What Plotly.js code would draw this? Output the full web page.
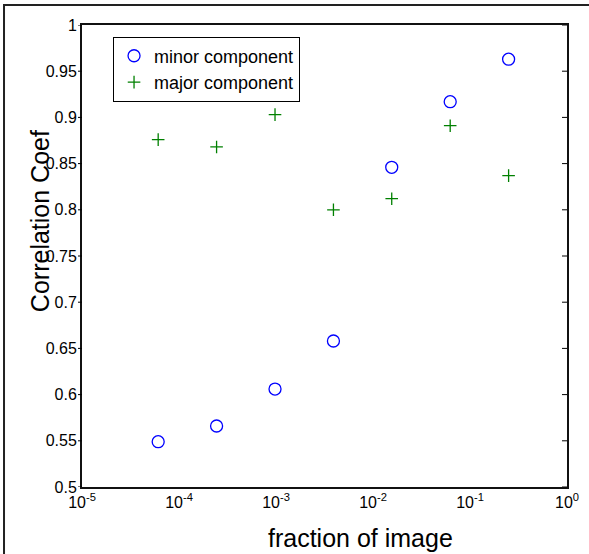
<!DOCTYPE html>
<html>
<head>
<meta charset="utf-8">
<script src="https://cdn.plot.ly/plotly-3.0.1.min.js"></script>
<style>html,body{margin:0;padding:0;background:#fff;overflow:hidden}#chart{width:589px;height:554px}</style>
</head>
<body>
<div id="chart"></div>
<script>
// Data
const fraction = [6.1e-5, 2.44e-4, 9.77e-4, 3.91e-3, 1.56e-2, 6.25e-2, 0.25];
const minorComponent = [0.549, 0.566, 0.606, 0.658, 0.846, 0.917, 0.963];
const majorComponent = [0.876, 0.868, 0.903, 0.800, 0.812, 0.891, 0.837];
const seriesNames = ["minor component", "major component"];
const yTickVals = [0.5, 0.55, 0.6, 0.65, 0.7, 0.75, 0.8, 0.85, 0.9, 0.95, 1];
const yTickText = ["0.5", "0.55", "0.6", "0.65", "0.7", "0.75", "0.8", "0.85", "0.9", "0.95", "1"];
const xTickVals = [1e-5, 1e-4, 1e-3, 1e-2, 1e-1, 1];
const xTickText = ["10<sup>-5</sup>", "10<sup>-4</sup>", "10<sup>-3</sup>", "10<sup>-2</sup>", "10<sup>-1</sup>", "10<sup>0</sup>"];
const xMinorMultipliers = [2, 3, 4, 5, 6, 7, 8, 9];
const xTitle = "fraction of image";
const yTitle = "Correlation Coef";

const xMinorVals = [];
xTickVals.slice(0, -1).forEach(d => xMinorMultipliers.forEach(m => xMinorVals.push(d * m)));

const FONT = "Liberation Sans, Arial, Helvetica, sans-serif";

const traces = [
  {
    x: fraction, y: minorComponent, name: seriesNames[0],
    type: "scatter", mode: "markers",
    marker: {symbol: "circle-open", size: 12, color: "rgb(0,0,255)", line: {width: 1.3, color: "rgb(0,0,255)"}}
  },
  {
    x: fraction, y: majorComponent, name: seriesNames[1],
    type: "scatter", mode: "markers",
    marker: {symbol: "cross-thin-open", size: 9, color: "rgb(0,128,0)", line: {width: 1.3, color: "rgb(0,128,0)"}}
  }
];

// Tick marks placed through the axis scales (x/y refs), lengths in pixels.
// Shapes on a log axis take log10 of the value.
const tickLine = {color: "#000", width: 1};
const shapes = [];
function xTick(v, len) {
  const lv = Math.log10(v);
  // bottom (inside, pointing up) and top (inside, pointing down)
  shapes.push({type: "line", xref: "x", yref: "paper", ysizemode: "pixel", yanchor: 0,
               x0: lv, x1: lv, y0: 0, y1: len, line: tickLine});
  shapes.push({type: "line", xref: "x", yref: "paper", ysizemode: "pixel", yanchor: 1,
               x0: lv, x1: lv, y0: 0, y1: -len, line: tickLine});
}
xTickVals.forEach(v => xTick(v, 5));
xMinorVals.forEach(v => xTick(v, 3));
yTickVals.forEach(v => {
  // left: outside; right: inside
  shapes.push({type: "line", xref: "paper", yref: "y", xsizemode: "pixel", xanchor: 0,
               x0: -4, x1: 0, y0: v, y1: v, line: tickLine});
  shapes.push({type: "line", xref: "paper", yref: "y", xsizemode: "pixel", xanchor: 1,
               x0: -5, x1: 0, y0: v, y1: v, line: tickLine});
});
// outer figure frame (extends past the right and bottom edges of the picture)
shapes.push({type: "rect", xref: "paper", yref: "paper", x0: -0.1608, x1: 1.3, y0: -0.4, y1: 1.0433,
             line: {color: "#222", width: 2}, fillcolor: "rgba(0,0,0,0)", layer: "below"});

const layout = {
  width: 589, height: 554,
  margin: {l: 82, r: 22, t: 25, b: 67},
  paper_bgcolor: "#fff", plot_bgcolor: "#fff",
  font: {family: FONT, color: "#000", size: 16},
  showlegend: true,
  legend: {
    x: 0.064, y: 0.975, xanchor: "left", yanchor: "top",
    bgcolor: "#fff", bordercolor: "#000", borderwidth: 1,
    font: {family: FONT, size: 18, color: "#000"},
    tracegroupgap: 0
  },
  xaxis: {
    type: "log", range: [-5, 0],
    tickmode: "array", tickvals: xTickVals, ticktext: xTickText,
    tickfont: {family: FONT, size: 16, color: "#000"},
    ticks: "", showline: true, linecolor: "#111", linewidth: 2, mirror: true,
    showgrid: false, zeroline: false
  },
  yaxis: {
    range: [0.5, 1], tickmode: "array", tickvals: yTickVals, ticktext: yTickText,
    tickfont: {family: FONT, size: 16, color: "#000"},
    ticks: "", showline: true, linecolor: "#111", linewidth: 2, mirror: true,
    showgrid: false, zeroline: false
  },
  annotations: [
    {text: xTitle, xref: "paper", yref: "paper", x: 0.574, y: -0.11, xanchor: "center", yanchor: "middle",
     showarrow: false, font: {family: FONT, size: 25, color: "#000"}},
    {text: yTitle, xref: "paper", yref: "paper", x: -0.085, y: 0.575, xanchor: "center", yanchor: "middle",
     textangle: -90, showarrow: false, font: {family: FONT, size: 25, color: "#000"}}
  ],
  shapes: shapes
};

Plotly.newPlot("chart", traces, layout, {displayModeBar: false, staticPlot: true});
</script>
</body>
</html>
